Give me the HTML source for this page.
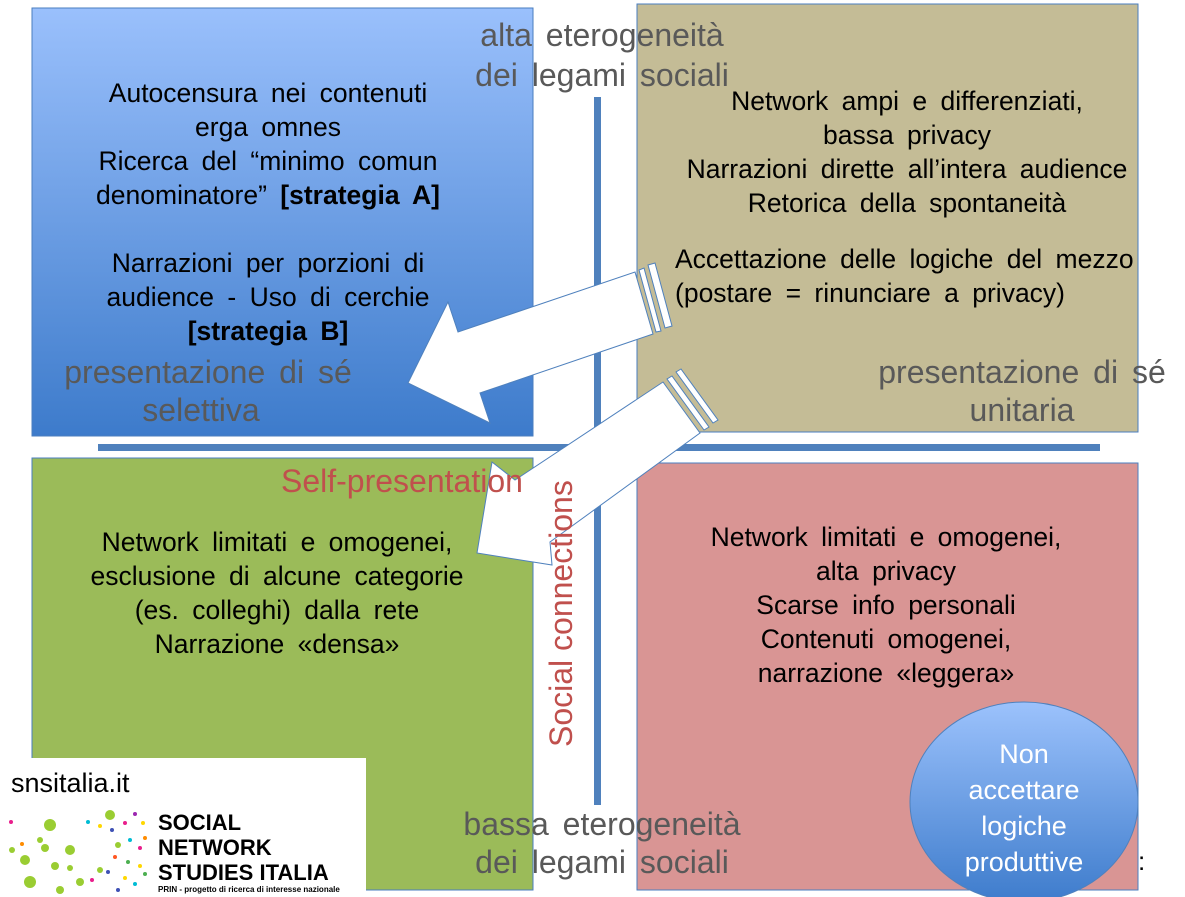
<!DOCTYPE html>
<html><head><meta charset="utf-8">
<style>
html,body{margin:0;padding:0;background:#fff;width:1185px;height:897px;overflow:hidden}
svg{display:block}
text{font-family:"Liberation Sans",Arial,sans-serif}
</style></head><body>
<svg width="1185" height="897" viewBox="0 0 1185 897" xmlns="http://www.w3.org/2000/svg">
<defs>
<linearGradient id="gb" x1="0" y1="0" x2="0" y2="1"><stop offset="0" stop-color="#9ac0fc"/><stop offset="1" stop-color="#3d7bcb"/></linearGradient>
<linearGradient id="gc" x1="0" y1="0" x2="0" y2="1"><stop offset="0" stop-color="#9cc2fc"/><stop offset="1" stop-color="#3e7ccc"/></linearGradient>
</defs>
<rect x="32" y="8" width="501" height="428" fill="url(#gb)" stroke="#4a7ebf" stroke-width="1"/>
<rect x="637" y="4" width="501" height="428" fill="#c4bc96" stroke="#4a7ebf" stroke-width="1"/>
<rect x="32" y="458" width="501" height="432" fill="#9bbb59" stroke="#4a7ebf" stroke-width="1"/>
<rect x="637" y="463" width="501" height="427" fill="#d99594" stroke="#4a7ebf" stroke-width="1"/>
<rect x="98" y="444" width="1002" height="7" fill="#4f81bd"/>
<rect x="594" y="97" width="7" height="708" fill="#4f81bd"/>

<g font-size="26.5" fill="#000" text-anchor="middle" word-spacing="6">
<text x="268" y="102">Autocensura nei contenuti</text>
<text x="268" y="136">erga omnes</text>
<text x="268" y="170">Ricerca del “minimo comun</text>
<text x="268" y="204">denominatore” <tspan font-weight="bold">[strategia A]</tspan></text>
<text x="268" y="272">Narrazioni per porzioni di</text>
<text x="268" y="306">audience - Uso di cerchie</text>
<text x="268" y="340" font-weight="bold">[strategia B]</text>
<text x="907" y="110">Network ampi e differenziati,</text>
<text x="907" y="144">bassa privacy</text>
<text x="907" y="178">Narrazioni dirette all’intera audience</text>
<text x="907" y="212">Retorica della spontaneità</text>
<text x="675" y="268" text-anchor="start">Accettazione delle logiche del mezzo</text>
<text x="675" y="302" text-anchor="start">(postare = rinunciare a privacy)</text>
<text x="277" y="551">Network limitati e omogenei,</text>
<text x="277" y="585">esclusione di alcune categorie</text>
<text x="277" y="619">(es. colleghi) dalla rete</text>
<text x="277" y="653">Narrazione «densa»</text>
<text x="886" y="546">Network limitati e omogenei,</text>
<text x="886" y="580">alta privacy</text>
<text x="886" y="614">Scarse info personali</text>
<text x="886" y="648">Contenuti omogenei,</text>
<text x="886" y="682">narrazione «leggera»</text>
</g>

<g font-size="32" fill="#595959" text-anchor="middle" word-spacing="5">
<text x="602" y="46">alta eterogeneità</text>
<text x="602" y="86">dei legami sociali</text>
<text x="208" y="383">presentazione di sé</text>
<text x="201" y="421">selettiva</text>
<text x="1022" y="383">presentazione di sé</text>
<text x="1022" y="421">unitaria</text>
<text x="602" y="835">bassa eterogeneità</text>
<text x="602" y="873">dei legami sociali</text>
</g>

<!-- big arrow -->
<g stroke="#4f81bd" stroke-width="1" fill="#fff">
<polygon points="408,383 448,302 458,332 635,272 653,334 480,393 490,423"/>
<polygon points="639,270 656,332 661,331 644,268"/>
<polygon points="648,265 665,328 672,326 655,263"/>
</g>

<!-- small arrow -->
<g stroke="#4f81bd" stroke-width="1" fill="#fff">
<polygon points="477,553 492,462 515,480 663,382 700,433 550,542 552,565"/>
<polygon points="667,379 704,430 709,427 672,376"/>
<polygon points="676,372 713,423 718,420 681,369"/>
</g>

<text x="281" y="492" font-size="32" fill="#c0504d">Self-presentation</text>
<text font-size="32" fill="#c0504d" transform="translate(572,747) rotate(-90)">Social connections</text>

<!-- circle -->
<ellipse cx="1024" cy="802" rx="114" ry="100" fill="url(#gc)" stroke="#4f81bd" stroke-width="1"/>
<g font-size="27" fill="#fff" text-anchor="middle">
<text x="1024" y="763">Non</text>
<text x="1024" y="799">accettare</text>
<text x="1024" y="835">logiche</text>
<text x="1024" y="871">produttive</text>
</g>
<text x="1138" y="870" font-size="26" fill="#000">:</text>

<!-- logo -->
<rect x="0" y="758" width="366" height="139" fill="#fff"/>
<text x="11" y="792" font-size="27" fill="#000">snsitalia.it</text>
<g fill="#9acd32">
<circle cx="50" cy="825" r="6"/><circle cx="40" cy="840" r="3"/><circle cx="25" cy="860" r="5"/><circle cx="70" cy="850" r="5"/><circle cx="55" cy="866" r="4"/><circle cx="30" cy="882" r="6"/><circle cx="80" cy="882" r="4"/><circle cx="45" cy="848" r="4"/><circle cx="70" cy="868" r="3"/><circle cx="12" cy="850" r="3"/><circle cx="110" cy="815" r="5"/><circle cx="118" cy="845" r="3"/><circle cx="100" cy="870" r="3"/><circle cx="60" cy="890" r="4"/>
</g>
<g>
<circle cx="11" cy="822" r="2" fill="#e91e8c"/><circle cx="22" cy="844" r="2" fill="#ff8c00"/><circle cx="88" cy="822" r="2" fill="#00bcd4"/><circle cx="100" cy="826" r="2" fill="#ffd700"/><circle cx="112" cy="830" r="2" fill="#3f51b5"/><circle cx="125" cy="823" r="2" fill="#e91e8c"/><circle cx="135" cy="814" r="2" fill="#9c27b0"/><circle cx="143" cy="823" r="2" fill="#ffd700"/><circle cx="130" cy="840" r="2" fill="#00bcd4"/><circle cx="140" cy="848" r="2" fill="#e91e8c"/><circle cx="115" cy="857" r="2" fill="#ff5722"/><circle cx="128" cy="862" r="2" fill="#4caf50"/><circle cx="140" cy="866" r="2" fill="#ffd700"/><circle cx="108" cy="872" r="2" fill="#3f51b5"/><circle cx="125" cy="878" r="2" fill="#ffd700"/><circle cx="135" cy="884" r="2" fill="#00bcd4"/><circle cx="145" cy="874" r="2" fill="#4caf50"/><circle cx="92" cy="880" r="2" fill="#e91e8c"/><circle cx="118" cy="890" r="2" fill="#3f51b5"/><circle cx="145" cy="838" r="2" fill="#ff8c00"/>
</g>
<g font-size="22" font-weight="bold" fill="#000">
<text x="158" y="830">SOCIAL</text>
<text x="158" y="855">NETWORK</text>
<text x="158" y="880">STUDIES ITALIA</text>
</g>
<text x="158" y="892" font-size="8" font-weight="bold" fill="#000">PRIN - progetto di ricerca di interesse nazionale</text>
</svg>
</body></html>
